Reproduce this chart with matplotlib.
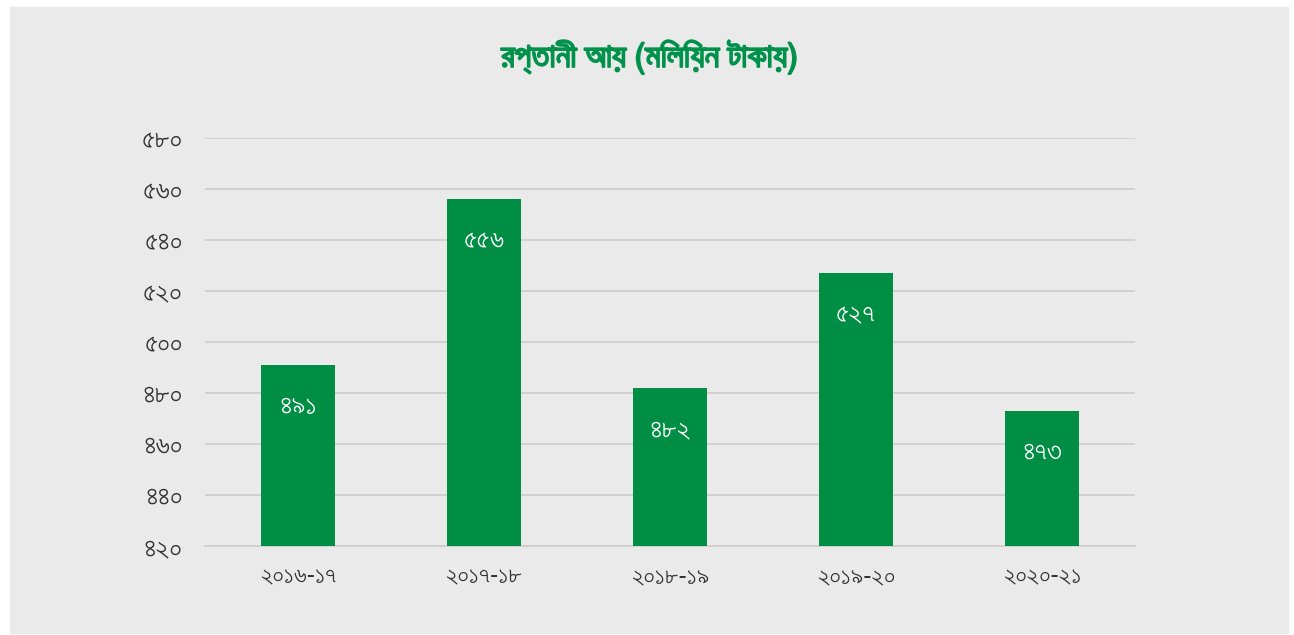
import matplotlib
matplotlib.use("Agg")
import matplotlib.pyplot as plt
import matplotlib.patheffects as pe
from matplotlib import font_manager
from matplotlib.ft2font import FT2Font
from matplotlib.patches import Rectangle

# data
years = ["২০১৬-১৭", "২০১৭-১৮", "২০১৮-১৯", "২০১৯-২০", "২০২০-২১"]
values = [491, 556, 482, 527, 473]
value_labels = ["৪৯১", "৫৫৬", "৪৮২", "৫২৭", "৪৭৩"]
y_ticks = [420, 440, 460, 480, 500, 520, 540, 560, 580]
y_tick_labels = ["৪২০", "৪৪০", "৪৬০", "৪৮০", "৫০০", "৫২০", "৫৪০", "৫৬০", "৫৮০"]
title = "রপ্তানী আয় (মিলিয়ন টাকায়)"


# installed Bengali fonts, those covering the title letters first, then tightest spacing
def bengali_fonts():
    found = {}
    need = [ord(c) for c in set(title.replace(" ", "").replace("(", "").replace(")", ""))]
    for f in font_manager.fontManager.ttflist:
        if f.weight not in (400, "normal", "regular"):
            continue
        try:
            ft = FT2Font(f.fname)
            cmap = ft.get_charmap()
            if 0x09E8 not in cmap:
                continue
            full = all(c in cmap for c in need)
            ft.set_size(12, 72)
            ft.set_text("২০১৬-১৭")
            w, _ = ft.get_width_height()
        except Exception:
            continue
        key = (0 if full else 1, w)
        if f.name not in found or key < found[f.name]:
            found[f.name] = key
    return sorted(found, key=lambda n: found[n])


families = bengali_fonts() + ["DejaVu Sans"]
plt.rcParams["font.family"] = families

green = "#008D44"
bg = "#EAEAEA"

fig = plt.figure(figsize=(12.94, 6.35), dpi=100)
fig.patches.append(Rectangle((10 / 1294, 2 / 635), 1278 / 1294, 626 / 635,
                             transform=fig.transFigure, color=bg, zorder=-10))

ax = fig.add_axes([205 / 1294, 89 / 635, 930 / 1294, 408 / 635])
ax.set_facecolor(bg)

x = range(len(years))
ax.bar(x, values, width=0.4, color=green, zorder=3)

for xi, v, lab in zip(x, values, value_labels):
    ax.text(xi, v - 16.5, lab, ha="center", va="center", color="white",
            fontsize=20, zorder=4)

ax.set_xlim(-0.5, len(years) - 0.5)
ax.set_ylim(420, 580)
ax.set_yticks(y_ticks)
ax.set_yticklabels(y_tick_labels, fontsize=20, color="#333333")
ax.set_xticks(list(x))
ax.set_xticklabels(years, fontsize=18, color="#333333")
ax.tick_params(axis="y", length=0, pad=16)
ax.tick_params(axis="x", length=0, pad=13)
ax.grid(axis="y", color="#CCCCCC", linewidth=1.2, zorder=0)
ax.set_axisbelow(True)
for s in ["top", "right", "left"]:
    ax.spines[s].set_visible(False)
ax.spines["bottom"].set_color("#CCCCCC")
ax.spines["bottom"].set_linewidth(1.2)

fig.text(650 / 1294, 1 - 57 / 635, title, ha="center", va="center",
         fontsize=24, color="#00924A",
         path_effects=[pe.withStroke(linewidth=1.4, foreground="#00924A")])

fig.savefig("out.png", dpi=100, facecolor="white")
